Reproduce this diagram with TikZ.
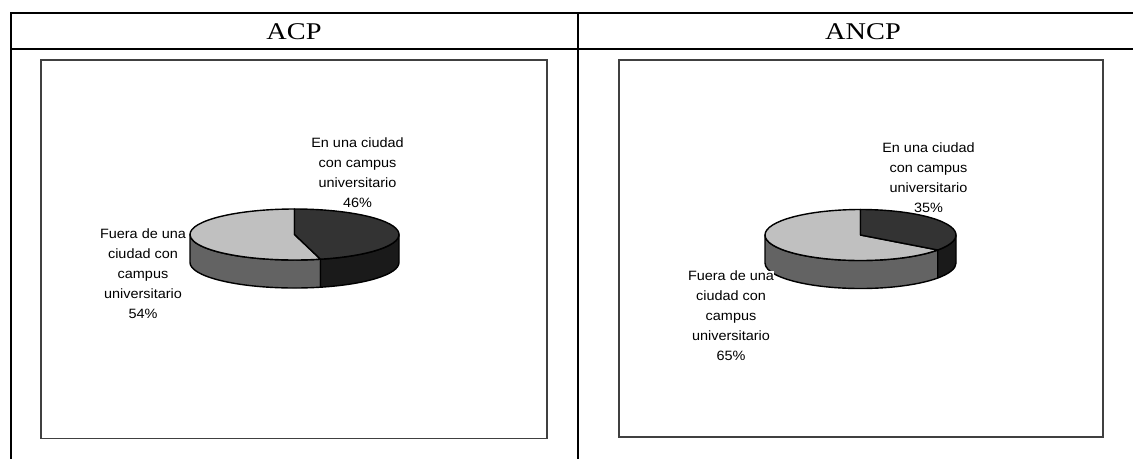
\documentclass[tikz,border=0pt]{standalone}
\usepackage{fontspec}
\setmainfont{Liberation Serif}
\newfontfamily\lsans[FakeStretch=1.07]{Liberation Sans}
\newfontfamily\hdrfont[FakeStretch=1.18]{Liberation Serif}
\definecolor{topD}{HTML}{333333}
\definecolor{sideD}{HTML}{1A1A1A}
\definecolor{topL}{HTML}{C0C0C0}
\definecolor{sideL}{HTML}{636363}
\newcommand{\drawpiechart}[4]{%
\begin{scope}[shift={(#1,#2)},y=1pt]
 \def\pieRx{#3}\def\pieRy{25.5}\def\pieD{28}
 \filldraw[pieedge,fill=sideL] (-\pieRx,0) arc[start angle=180,end angle=#4,x radius=\pieRx,y radius=\pieRy] -- ++(0,-\pieD) arc[start angle=#4,end angle=180,x radius=\pieRx,y radius=\pieRy] -- cycle;
 \filldraw[pieedge,fill=sideD] ({\pieRx*cos(#4)},{\pieRy*sin(#4)}) arc[start angle=#4,end angle=360,x radius=\pieRx,y radius=\pieRy] -- ++(0,-\pieD) arc[start angle=360,end angle=#4,x radius=\pieRx,y radius=\pieRy] -- cycle;
 \filldraw[pieedge,fill=topL] (0,0) -- (0,\pieRy) arc[start angle=90,end angle=#4,x radius=\pieRx,y radius=\pieRy] -- cycle;
 \filldraw[pieedge,fill=topD] (0,0) -- ({\pieRx*cos(#4)},{\pieRy*sin(#4)}) arc[start angle=#4-360,end angle=90,x radius=\pieRx,y radius=\pieRy] -- cycle;
\end{scope}}
\begin{document}
\begin{tikzpicture}[x=1pt,y=-1pt,
  tline/.style={line width=2pt,black},
  chartbox/.style={draw=black!75,line width=1.2pt},
  hdr/.style={font=\hdrfont\fontsize{24}{28}\selectfont,inner sep=0pt},
  lbl/.style={font=\lsans\fontsize{13.5}{20}\selectfont,align=center,inner sep=0.5pt},
  lblw/.style={lbl,fill=white},
  pieedge/.style={draw=black,line width=1.4pt,line join=round},
]
\useasboundingbox (0,0) rectangle (1133,459);
\fill[white] (0,0) rectangle (1133,459);
% table
\draw[tline] (11,13) -- (1133,13);
\draw[tline] (11,49) -- (1133,49);
\draw[tline] (11,12) -- (11,459);
\draw[tline] (577.7,12) -- (577.7,459);
\node[hdr] (hACP) at (294,32) {ACP};
\node[hdr] (hANCP) at (863,32) {ANCP};
% chart frames
\draw[chartbox] (41,60) rectangle (547,438.5);
\draw[chartbox] (619,60) rectangle (1103,437);
% pies
\drawpiechart{294.5}{234.5}{104.5}{284.4}
\drawpiechart{860.5}{235}{95.5}{324}
% labels
\node[lbl] (acpEn) at (357.5,172.5) {En una ciudad\\con campus\\universitario\\46\%};
\node[lblw] (acpFu) at (143,273.5) {Fuera de una\\ciudad con\\campus\\universitario\\54\%};
\node[lbl] (ancpEn) at (928.5,177.5) {En una ciudad\\con campus\\universitario\\35\%};
\node[lblw] (ancpFu) at (731,316) {Fuera de una\\ciudad con\\campus\\universitario\\65\%};
\end{tikzpicture}
\end{document}
